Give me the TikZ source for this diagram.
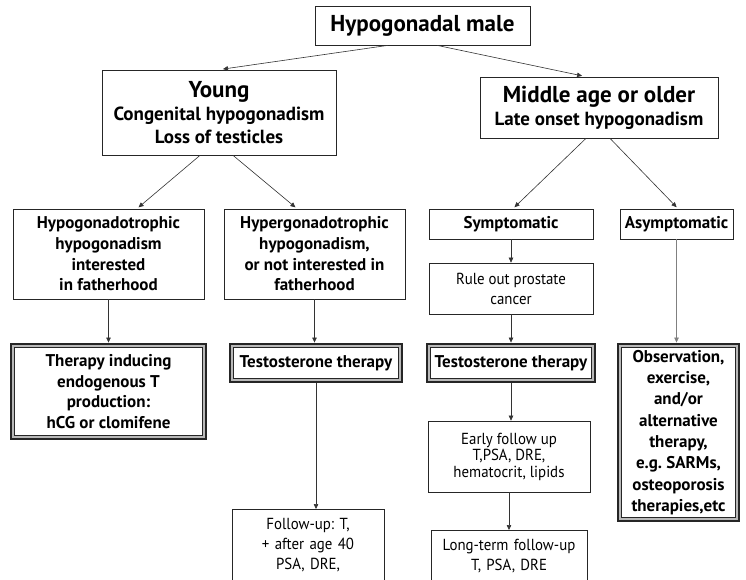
\documentclass[tikz,border=0pt]{standalone}
\usepackage{fontspec}
\setmainfont{PT Sans}
\newfontfamily\narrowfont[FakeStretch=0.93]{PT Sans}
\usetikzlibrary{arrows.meta,calc}

\tikzset{
  box/.style={draw=black!85, line width=0.7pt, align=center, inner sep=2pt,
    font=\bfseries\fontsize{17}{20.7}\selectfont},
  plainbox/.style={box, font=\narrowfont\fontsize{16}{20}\selectfont},
  topbox/.style={box, font=\bfseries\fontsize{23}{26}\selectfont},
  link/.style={-{Triangle[length=5pt,width=4.5pt]}, black!80, line width=0.6pt},
  toframe/.style={link, shorten >=4.6pt},
}
\newcommand{\bigline}[1]{{\fontsize{23}{27}\selectfont #1}}

\begin{document}
\frenchspacing
\begin{tikzpicture}[x=1pt, y=-1pt]
  \useasboundingbox (0,0) rectangle (746,579);
  \clip (0,0) rectangle (746,579);
  \fill[white] (0,0) rectangle (746,579);

  % Top level
  \node[topbox, minimum width=215, minimum height=39] (male) at (422.5,25.5) {Hypogonadal male};

  % Age groups
  \node[box, font=\bfseries\fontsize{19}{23}\selectfont, minimum width=234, minimum height=85] (young) at (219,112.5)
    {\bigline{Young}\\Congenital hypogonadism\\Loss of testicles};
  \node[box, font=\bfseries\fontsize{19}{23}\selectfont, minimum width=238, minimum height=61] (older) at (599,107.5)
    {\bigline{Middle age or older}\\Late onset hypogonadism};

  % Second level
  \node[box, minimum width=191, minimum height=90] (hypo) at (108.5,254)
    {Hypogonadotrophic\\hypogonadism\\interested\\in fatherhood};
  \node[box, minimum width=181, minimum height=90] (hyper) at (314.5,254)
    {Hypergonadotrophic\\hypogonadism,\\or not interested in\\fatherhood};
  \node[box, minimum width=164, minimum height=30] (sympt) at (511,224) {Symptomatic};
  \node[box, minimum width=113, minimum height=30] (asympt) at (676.5,224) {Asymptomatic};
  \node[plainbox, minimum width=164, minimum height=51] (ruleout) at (511,288.5)
    {Rule out prostate\\cancer};

  % Therapies (framed twice)
  \node[box, minimum width=188, minimum height=88] (endo) at (108.5,391.5)
    {Therapy inducing\\endogenous T\\production:\\hCG or clomifene};
  \node[box, minimum width=165, minimum height=31] (testoA) at (316,363) {Testosterone therapy};
  \node[box, minimum width=161, minimum height=31] (testoB) at (511,363) {Testosterone therapy};
  \node[box, font=\bfseries\fontsize{17}{21.3}\selectfont, minimum width=114, minimum height=170] (observe) at (678.5,432.5)
    {Observation,\\exercise,\\and/or\\alternative\\therapy,\\e.g. SARMs,\\osteoporosis\\therapies,etc};
  \foreach \n in {endo,testoA,testoB,observe} {
    \draw[gray!55, line width=1.6pt] ([shift={(-1.3pt,1.3pt)}]\n.north west) rectangle ([shift={(1.3pt,-1.3pt)}]\n.south east);
    \draw[black!85, line width=2.6pt] ([shift={(-3.3pt,3.3pt)}]\n.north west) rectangle ([shift={(3.3pt,-3.3pt)}]\n.south east);
  }

  % Follow-up
  \node[plainbox, font=\narrowfont\fontsize{16}{16.5}\selectfont, minimum width=162, minimum height=71] (early) at (509,456.5)
    {Early follow up\\T,PSA, DRE,\\hematocrit, lipids};
  \node[plainbox, anchor=north, text width=152, inner ysep=9pt, text depth=60pt] (longterm) at (509,530)
    {Long-term follow-up\\T, PSA, DRE};
  \node[plainbox, anchor=north, text width=148, inner ysep=9pt, text depth=60pt] (follow) at (308,509)
    {Follow-up: T,\\+ after age 40\\PSA, DRE,};

  % Connectors
  \draw[link, shorten >=4pt] ($(male.south)+(-34.5,0)$) -- (young.north);
  \draw[link, shorten >=4pt] ($(male.south)+(14.5,0)$) -- ($(older.north)+(-13,0)$);
  \draw[link, shorten >=2pt] ($(young.south)+(-19,0)$) -- ($(hypo.north)+(28.5,0)$);
  \draw[link, shorten >=2pt] ($(young.south)+(14,0)$) -- ($(hyper.north)+(-17.5,0)$);
  \draw[link, shorten >=2pt] ($(older.south)+(-13,0)$) -- ($(sympt.north)+(2,0)$);
  \draw[link, shorten >=2pt] ($(older.south)+(11,0)$) -- ($(asympt.north)+(1.5,0)$);
  \draw[toframe] (hypo.south) -- (hypo.south |- endo.north);
  \draw[toframe] (hyper.south) -- (hyper.south |- testoA.north);
  \draw[link] (sympt.south) -- (ruleout.north);
  \draw[toframe] (ruleout.south) -- (testoB.north);
  \draw[toframe, black!50] (asympt.south) -- (asympt.south |- observe.north);
  \draw[link, shorten <=4.6pt] (testoA.south) -- (testoA.south |- follow.north);
  \draw[link, shorten <=4.6pt] (testoB.south) -- (testoB.south |- early.north);
  \draw[link] (early.south) -- (early.south |- longterm.north);
\end{tikzpicture}
\end{document}
